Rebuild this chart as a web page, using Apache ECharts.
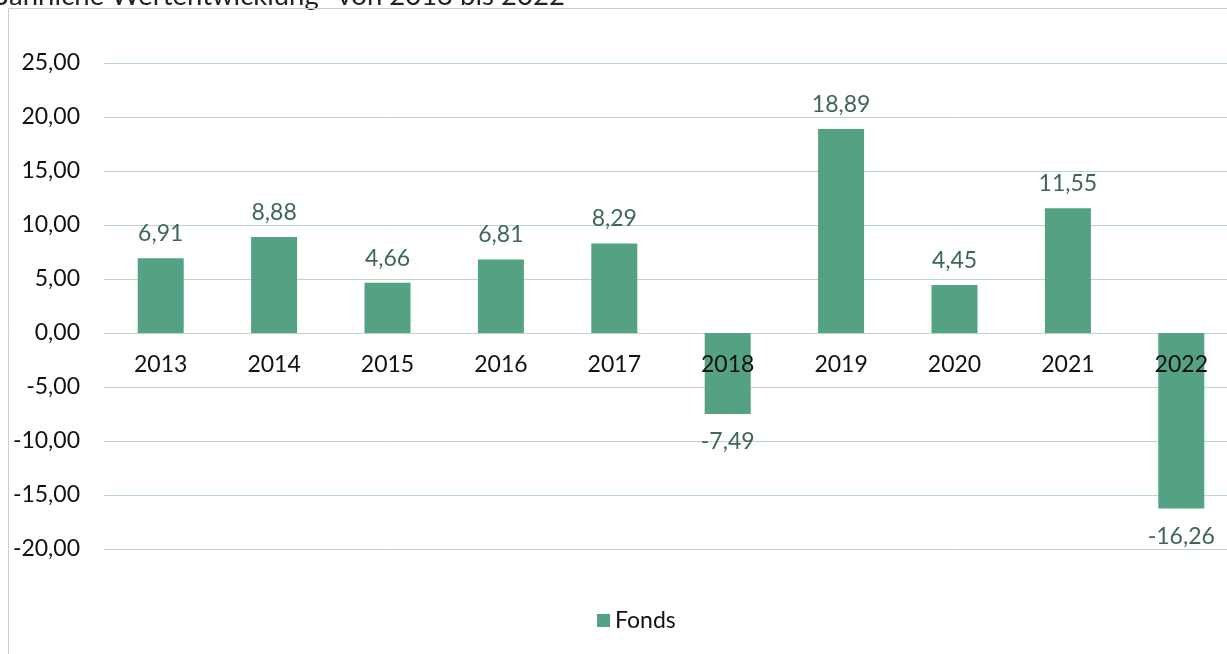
<!DOCTYPE html>
<html>
<head>
<meta charset="utf-8">
<style>
  html, body { margin: 0; padding: 0; background: #fff; overflow: hidden; }
  #main { width: 1270px; height: 654px; }
</style>
<script src="https://cdn.jsdelivr.net/npm/echarts@6/dist/echarts.min.js"></script>
</head>
<body>
<div id="main"></div>
<script>
const years = ['2013', '2014', '2015', '2016', '2017', '2018', '2019', '2020', '2021', '2022'];
const fonds = [6.91, 8.88, 4.66, 6.81, 8.29, -7.49, 18.89, 4.45, 11.55, -16.26];

const myChart = echarts.init(document.querySelector('#main'));

const fmt = v => v.toFixed(2).replace('.', ',');
const barColor = '#55A183';
const gridColor = '#B9DBB9';
const font = 'Lato, "Open Sans", sans-serif';

const option = {
  backgroundColor: '#fff',
  animation: false,
  textStyle: { fontFamily: font },
  graphic: [
    {
      type: 'text',
      left: -2,
      top: -18,
      style: {
        text: 'Jährliche Wertentwicklung* von 2013 bis 2022',
        font: '27.5px ' + font,
        fill: '#222'
      }
    },
    {
      type: 'rect',
      shape: { x: 8.5, y: 8.5, width: 1400, height: 800 },
      style: { fill: 'none', stroke: gridColor, lineWidth: 1 },
      silent: true
    }
  ],
  legend: {
    data: ['Fonds'],
    left: 592,
    top: 604,
    itemWidth: 13,
    itemHeight: 13,
    itemGap: 6,
    icon: 'rect',
    textStyle: { fontSize: 23, color: '#111', fontFamily: font }
  },
  grid: {
    left: 104,
    top: 63,
    width: 1134,
    height: 486
  },
  xAxis: {
    type: 'category',
    data: years,
    z: 10,
    offset: -216,
    axisLine: { show: false, onZero: false },
    axisTick: { show: false },
    axisLabel: { fontSize: 23, color: '#111', margin: 20, fontFamily: font }
  },
  yAxis: {
    type: 'value',
    min: -20,
    max: 25,
    interval: 5,
    axisLine: { show: false },
    axisTick: { show: false },
    splitLine: { lineStyle: { color: gridColor, width: 1 } },
    axisLabel: { fontSize: 23, color: '#111', margin: 24, formatter: fmt, fontFamily: font }
  },
  series: [{
    name: 'Fonds',
    type: 'bar',
    barWidth: 46,
    itemStyle: { color: barColor },
    data: fonds.map(v => ({
      value: v,
      label: v < 0 ? { position: 'bottom', distance: 16 } : { position: 'top', distance: 13 }
    })),
    label: {
      show: true,
      fontSize: 23,
      color: '#3E6655',
      fontFamily: font,
      formatter: p => fmt(p.value)
    }
  }]
};

myChart.setOption(option);
</script>
</body>
</html>
